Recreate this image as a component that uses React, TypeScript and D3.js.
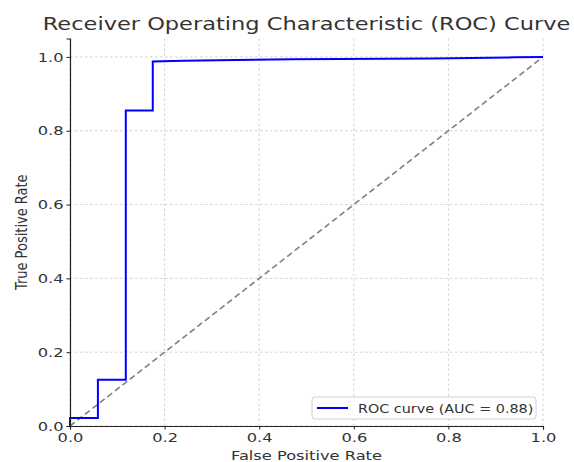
import React, { useEffect, useRef } from "react";
import * as d3 from "d3";

// ROC curve points (false positive rate, true positive rate)
const fpr = [0, 0, 0.059, 0.059, 0.118, 0.118, 0.175, 0.175, 0.24, 0.35, 0.47, 0.765, 0.94, 1.0];
const tpr = [0, 0.022, 0.022, 0.125, 0.125, 0.855, 0.855, 0.988, 0.99, 0.992, 0.994, 0.996, 0.999, 1.0];
const tickValues = [0, 0.2, 0.4, 0.6, 0.8, 1.0];
const aucLabel = "ROC curve (AUC = 0.88)";

export default function App() {
  const ref = useRef<SVGSVGElement>(null);
  const width = 574;
  const height = 462;

  useEffect(() => {
    const svg = d3.select(ref.current);
    const margin = { top: 38.5, right: 31, bottom: 36, left: 70 };
    const font = "DejaVu Sans, sans-serif";
    // the reference text is stretched horizontally
    const sx = 1.25;

    const x = d3.scaleLinear().domain([0, 1]).range([margin.left, width - margin.right]);
    const y = d3.scaleLinear().domain([0, 1.05]).range([height - margin.bottom, margin.top]);

    // grid
    const grid = svg.append("g");
    grid
      .selectAll("line.gx")
      .data(tickValues)
      .join("line")
      .attr("x1", d => x(d))
      .attr("x2", d => x(d))
      .attr("y1", y(0))
      .attr("y2", y(1.05))
      .attr("stroke", "#b0b0b0")
      .attr("stroke-width", 0.8)
      .attr("stroke-dasharray", "2.5,2.5")
      .attr("opacity", 0.7);
    grid
      .selectAll("line.gy")
      .data(tickValues)
      .join("line")
      .attr("x1", x(0))
      .attr("x2", x(1))
      .attr("y1", d => y(d))
      .attr("y2", d => y(d))
      .attr("stroke", "#b0b0b0")
      .attr("stroke-width", 0.8)
      .attr("stroke-dasharray", "2.5,2.5")
      .attr("opacity", 0.7);

    // diagonal
    svg
      .append("line")
      .attr("x1", x(0))
      .attr("y1", y(0))
      .attr("x2", x(1))
      .attr("y2", y(1))
      .attr("stroke", "#808080")
      .attr("stroke-width", 1.6)
      .attr("stroke-dasharray", "6,3.5");

    // ROC curve
    const pts = fpr.map((f, i) => [f, tpr[i]] as [number, number]);
    const line = d3
      .line<[number, number]>()
      .x(d => x(d[0]))
      .y(d => y(d[1]));
    svg
      .append("path")
      .attr("d", line(pts))
      .attr("fill", "none")
      .attr("stroke", "#0000ff")
      .attr("stroke-width", 2);

    // axes
    const xAxis = svg
      .append("g")
      .attr("transform", `translate(0,${y(0)})`)
      .call(d3.axisBottom(x).tickValues(tickValues).tickFormat(d3.format(".1f")).tickSize(3.5).tickPadding(3));
    const yAxis = svg
      .append("g")
      .attr("transform", `translate(${x(0)},0)`)
      .call(d3.axisLeft(y).tickValues(tickValues).tickFormat(d3.format(".1f")).tickSize(3.5).tickPadding(3));
    [xAxis, yAxis].forEach(g => {
      g.select(".domain").attr("stroke", "#222").attr("stroke-width", 1.2);
      g.selectAll(".tick line").attr("stroke", "#222");
      g.selectAll(".tick text")
        .attr("fill", "#333")
        .attr("transform", `scale(${sx},1)`)
        .style("font-size", "13px")
        .style("font-family", font);
    });
    yAxis.selectAll(".tick text").attr("x", -6.5 / sx);

    // labels
    svg
      .append("text")
      .attr("transform", `translate(${(x(0) + x(1)) / 2},30) scale(${sx},1)`)
      .attr("text-anchor", "middle")
      .style("font-family", font)
      .style("font-size", "18px")
      .attr("fill", "#333")
      .text("Receiver Operating Characteristic (ROC) Curve");
    svg
      .append("text")
      .attr("transform", `translate(${(x(0) + x(1)) / 2},459.5) scale(${sx},1)`)
      .attr("text-anchor", "middle")
      .style("font-family", font)
      .style("font-size", "13px")
      .attr("fill", "#333")
      .text("False Positive Rate");
    svg
      .append("text")
      .attr("transform", `translate(27,${(y(0) + y(1.05)) / 2}) scale(${sx},1) rotate(-90)`)
      .attr("text-anchor", "middle")
      .style("font-family", font)
      .style("font-size", "13px")
      .attr("fill", "#333")
      .text("True Positive Rate");

    // legend
    const lg = svg.append("g").attr("transform", `translate(312,397)`);
    lg.append("rect")
      .attr("width", 224)
      .attr("height", 22)
      .attr("rx", 3)
      .attr("fill", "white")
      .attr("fill-opacity", 0.8)
      .attr("stroke", "#d0d0d0");
    lg.append("line")
      .attr("x1", 5)
      .attr("x2", 36)
      .attr("y1", 11)
      .attr("y2", 11)
      .attr("stroke", "#0000ff")
      .attr("stroke-width", 2);
    lg.append("text")
      .attr("transform", `translate(46,15.5) scale(${sx},1)`)
      .style("font-family", font)
      .style("font-size", "11.5px")
      .attr("fill", "#333")
      .text(aucLabel);

    return () => {
      svg.selectAll("*").remove();
    };
  }, []);

  return (
    <svg
      ref={ref}
      width={width}
      height={height}
      style={{ position: "absolute", left: 0, top: 0, background: "white" }}
    />
  );
}
